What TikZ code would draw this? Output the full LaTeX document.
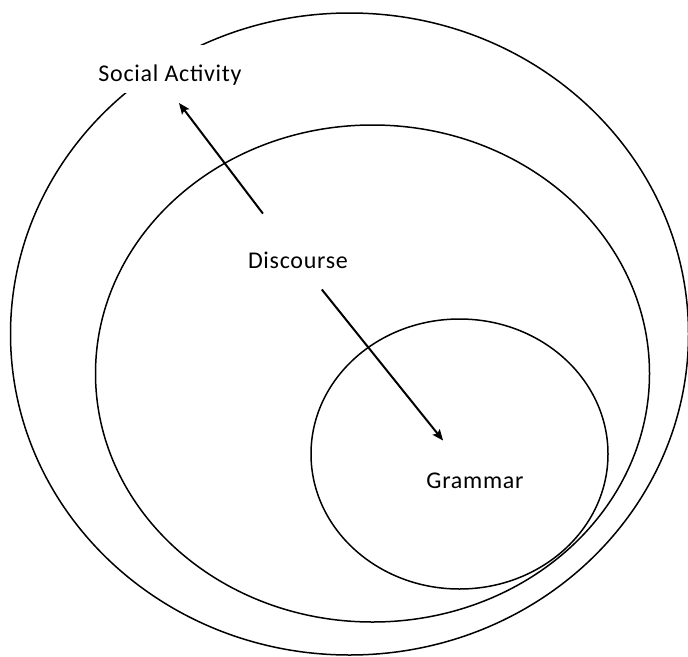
\documentclass[tikz,border=0pt]{standalone}
\usepackage{fontspec}
\setmainfont{Carlito}[LetterSpace=3]
\usepackage{tikz}
\usetikzlibrary{arrows.meta}

\begin{document}
\begin{tikzpicture}[
    x=1pt, y=-1pt,
    ring/.style={draw=black, line width=1.5pt},
    lbl/.style={anchor=base, inner sep=0pt, font=\fontsize{24}{28}\selectfont},
    arr/.style={-{Stealth[length=11pt, width=9pt, inset=2pt]}, line width=2pt}
]
\useasboundingbox (0,0) rectangle (688,656);

% nested levels
\draw[ring] (349.5,334) ellipse [x radius=339pt, y radius=321pt];
\draw[ring] (372.5,373.5) ellipse [x radius=277pt, y radius=248.5pt];
\draw[ring] (459.5,454) ellipse [x radius=148.5pt, y radius=135pt];

\node[lbl, fill=white, text height=32pt, text depth=8pt, inner xsep=6pt, inner ysep=4pt] (soc) at (170,81) {Social Activity};
\node[lbl] (disc) at (298,268) {Discourse};
\node[lbl] (gram) at (475,488) {Grammar};

\coordinate (socTip) at (179,103);

\draw[arr, shorten <=58pt] (disc.center) -- (socTip);
\draw[arr, shorten <=38pt, shorten >=51pt] (disc.center) -- (gram.center);
\end{tikzpicture}
\end{document}
